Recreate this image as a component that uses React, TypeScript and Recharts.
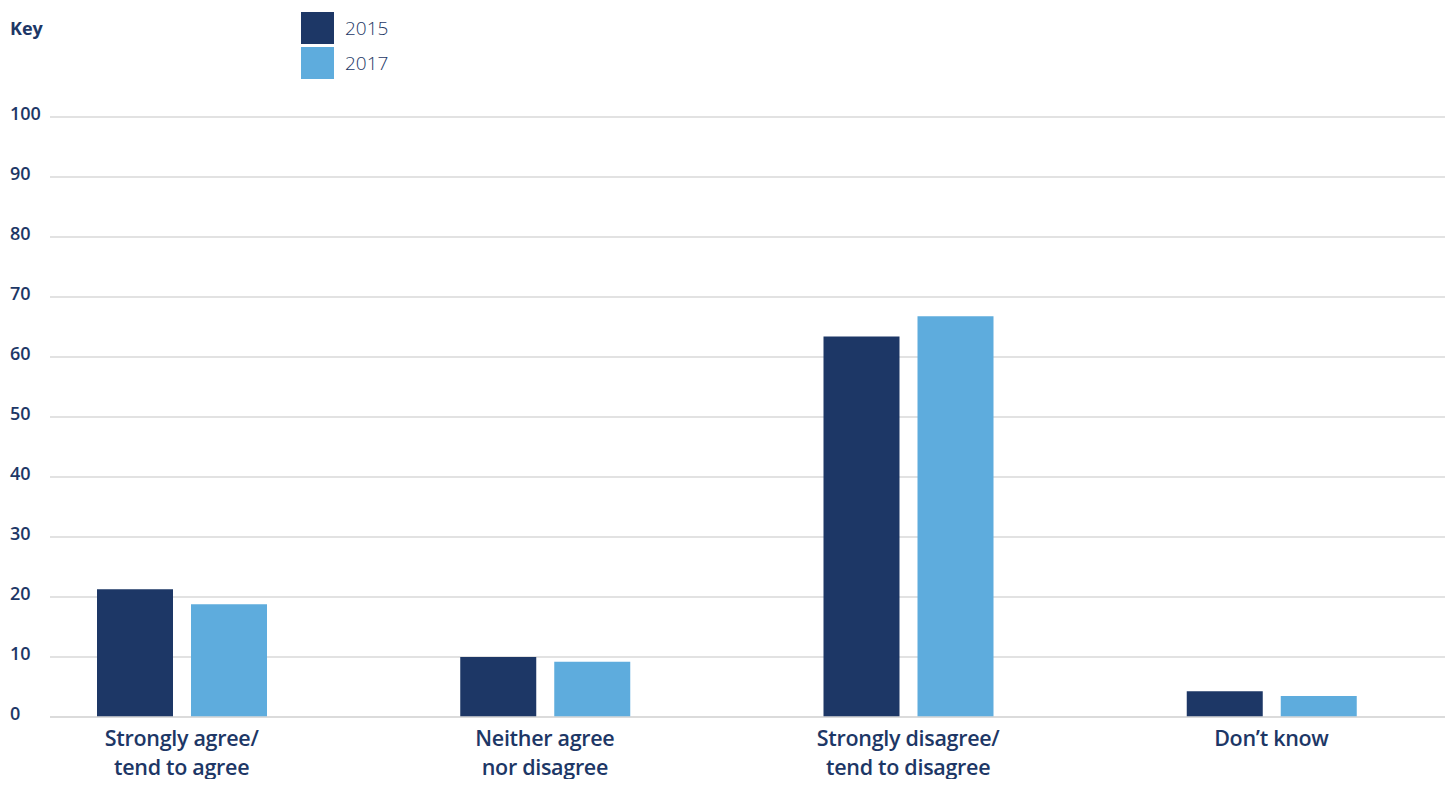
import { BarChart, Bar, XAxis, YAxis, CartesianGrid } from "recharts";

const categories = [
  "Strongly agree/\ntend to agree",
  "Neither agree\nnor disagree",
  "Strongly disagree/\ntend to disagree",
  "Don’t know",
];
const values2015 = [21.3, 10.0, 63.4, 4.3];
const values2017 = [18.8, 9.2, 66.8, 3.5];
const yTicks = [0, 10, 20, 30, 40, 50, 60, 70, 80, 90, 100];

const NAVY = "#1d3766";
const SKY = "#5eacdd";
const FONT = "'Open Sans', 'Noto Sans', sans-serif";

const series = [
  { key: "y2015", label: "2015", color: NAVY },
  { key: "y2017", label: "2017", color: SKY },
];

const data = categories.map((name, i) => ({
  name,
  y2015: values2015[i],
  y2017: values2017[i],
}));

function YTick({ y, payload }: any) {
  return (
    <text x={10} y={y} dy={3} fill={NAVY} fontSize={18} fontWeight={600} fontFamily={FONT} textAnchor="start">
      {payload.value}
    </text>
  );
}

function XTick({ x, y, payload }: any) {
  const lines = String(payload.value).split("\n");
  return (
    <g>
      {lines.map((l, i) => (
        <text
          key={i}
          x={x}
          y={y + 21 + i * 29}
          fill={NAVY}
          fontSize={21.5}
          fontWeight={600}
          fontFamily={FONT}
          textAnchor="middle"
          letterSpacing={-0.3}
        >
          {l}
        </text>
      ))}
    </g>
  );
}

function KeyLegend() {
  return (
    <div style={{ position: "absolute", left: 0, top: 0, width: 420, height: 90, fontFamily: FONT, color: NAVY }}>
      <div style={{ position: "absolute", left: 10, top: 16, fontSize: 18, fontWeight: 700 }}>Key</div>
      {series.map((s, i) => (
        <div key={s.key} style={{ position: "absolute", left: 301, top: 12 + i * 35 }}>
          <div style={{ position: "absolute", left: 0, top: 0, width: 33, height: 32, background: s.color }} />
          <div style={{ position: "absolute", left: 44, top: 3, fontSize: 19, fontWeight: 300, whiteSpace: "nowrap" }}>
            {s.label}
          </div>
        </div>
      ))}
    </div>
  );
}

export default function App() {
  return (
    <div style={{ margin: -8, background: "#fff", width: 1456, height: 787, position: "relative" }}>
      <BarChart
        width={1456}
        height={787}
        data={data}
        margin={{ top: 117, right: 11, left: 0, bottom: 0 }}
        barSize={76}
        barGap={18}
      >
        <CartesianGrid horizontal vertical={false} stroke="#d9d9d9" strokeWidth={1.5} />
        <XAxis
          dataKey="name"
          interval={0}
          padding={{ left: -50, right: -8 }}
          tick={<XTick />}
          tickLine={false}
          axisLine={{ stroke: "#d9d9d9", strokeWidth: 1.5 }}
          height={70}
        />
        <YAxis
          domain={[0, 100]}
          ticks={yTicks}
          width={50}
          tick={<YTick />}
          tickLine={false}
          axisLine={false}
        />
        {series.map((s) => (
          <Bar key={s.key} dataKey={s.key} name={s.label} fill={s.color} isAnimationActive={false} />
        ))}
      </BarChart>
      <KeyLegend />
    </div>
  );
}
